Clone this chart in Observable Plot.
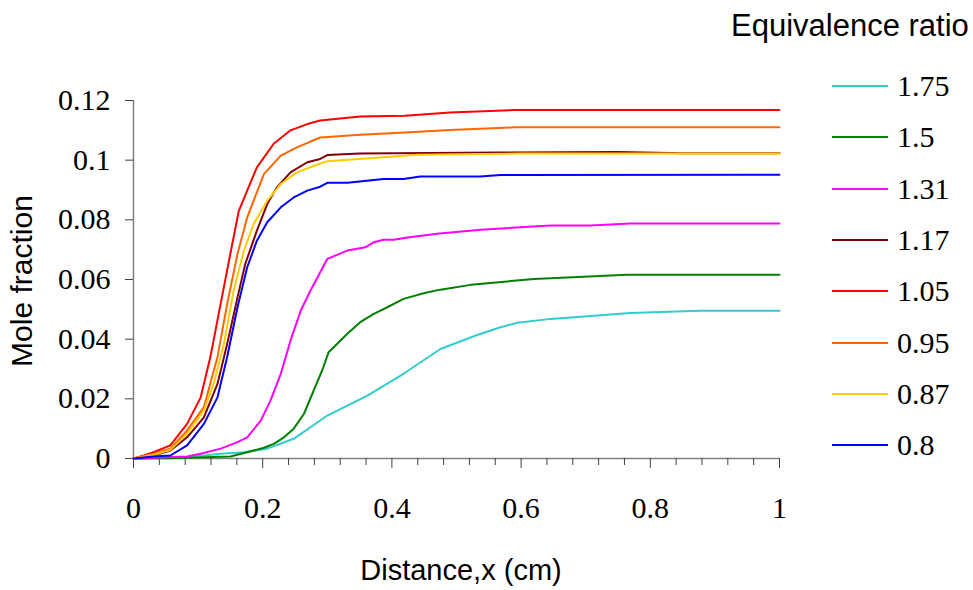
<!DOCTYPE html>
<html>
<head>
<meta charset="utf-8">
<script src="https://cdn.jsdelivr.net/npm/d3@7"></script>
<script src="https://cdn.jsdelivr.net/npm/@observablehq/plot@0.6"></script>
<style>
  html, body { margin: 0; padding: 0; background: #fff; }
  #wrap { position: relative; width: 973px; height: 590px; overflow: hidden; }
  .sans { font-family: "Liberation Sans", Arial, sans-serif; font-size: 30px; color: #000; position: absolute; white-space: nowrap; }
  .serif { font-family: "Liberation Serif", "Times New Roman", serif; font-size: 30px; color: #000; }
  .item { position: absolute; left: 832px; height: 40px; display: flex; align-items: center; transform: translateY(-50%); }
</style>
</head>
<body>
<div id="wrap"></div>
<script>
// ---- data ----
const ratios = ["1.75", "1.5", "1.31", "1.17", "1.05", "0.95", "0.87", "0.8"];
const colors = ["#33CCCC", "#008000", "#FF00FF", "#800000", "#FF0000", "#FF6600", "#FFCC00", "#0000FF"];

const x_175 = [0, 0.083, 0.135, 0.171, 0.207, 0.248, 0.300, 0.362, 0.418, 0.475, 0.532, 0.568, 0.594, 0.646, 0.769, 0.878, 1];
const y_175 = [0, 0.0004, 0.0016, 0.0021, 0.0033, 0.0066, 0.0144, 0.0211, 0.0284, 0.0367, 0.0414, 0.044, 0.0455, 0.0468, 0.0488, 0.0495, 0.0495];

const x_150 = [0, 0.057, 0.150, 0.176, 0.202, 0.217, 0.233, 0.248, 0.264, 0.279, 0.292, 0.302, 0.315, 0.331, 0.351, 0.372, 0.393, 0.418, 0.449, 0.475, 0.522, 0.620, 0.764, 1];
const y_150 = [0, 0.0001, 0.0007, 0.0021, 0.0036, 0.0049, 0.0071, 0.010, 0.015, 0.0228, 0.0295, 0.0356, 0.0384, 0.0418, 0.0457, 0.0485, 0.0507, 0.0535, 0.0554, 0.0566, 0.0582, 0.0602, 0.0616, 0.0616];

const x_131 = [0, 0.083, 0.104, 0.135, 0.161, 0.176, 0.197, 0.212, 0.228, 0.243, 0.259, 0.274, 0.289, 0.300, 0.331, 0.359, 0.372, 0.387, 0.403, 0.424, 0.470, 0.537, 0.646, 0.707, 0.769, 1];
const y_131 = [0, 0.0007, 0.0016, 0.0033, 0.0055, 0.0071, 0.0127, 0.0194, 0.0284, 0.0395, 0.0496, 0.0563, 0.0624, 0.0669, 0.0697, 0.0708, 0.0725, 0.0733, 0.0733, 0.0741, 0.0753, 0.0767, 0.0781, 0.0781, 0.0788, 0.0788];

const x_117 = [0, 0.031, 0.057, 0.083, 0.109, 0.130, 0.145, 0.161, 0.173, 0.191, 0.207, 0.222, 0.243, 0.269, 0.289, 0.300, 0.35, 0.568, 0.75, 0.85, 1];
const y_117 = [0, 0.001, 0.0027, 0.0071, 0.0138, 0.025, 0.0384, 0.054, 0.0652, 0.0764, 0.0853, 0.0909, 0.0959, 0.0993, 0.1004, 0.1017, 0.1022, 0.1026, 0.1027, 0.1023, 0.1023];

const x_105 = [0, 0.016, 0.031, 0.057, 0.083, 0.104, 0.119, 0.135, 0.150, 0.163, 0.176, 0.191, 0.217, 0.243, 0.269, 0.289, 0.351, 0.42, 0.49, 0.59, 1];
const y_105 = [0, 0.001, 0.0021, 0.0044, 0.0116, 0.0205, 0.034, 0.052, 0.0687, 0.083, 0.0898, 0.0976, 0.1055, 0.110, 0.1121, 0.1133, 0.1146, 0.1149, 0.116, 0.1168, 0.1168];

const x_095 = [0, 0.031, 0.057, 0.083, 0.109, 0.130, 0.145, 0.161, 0.176, 0.202, 0.228, 0.253, 0.289, 0.351, 0.42, 0.49, 0.59, 1];
const y_095 = [0, 0.0016, 0.0033, 0.0094, 0.0172, 0.034, 0.0518, 0.0686, 0.0808, 0.0954, 0.1015, 0.1043, 0.1076, 0.1085, 0.1093, 0.1101, 0.111, 0.111];

const x_087 = [0, 0.031, 0.057, 0.083, 0.109, 0.124, 0.140, 0.155, 0.171, 0.186, 0.207, 0.228, 0.253, 0.289, 0.300, 0.387, 0.439, 0.6, 1];
const y_087 = [0, 0.0012, 0.0029, 0.0083, 0.0161, 0.025, 0.0384, 0.0563, 0.0697, 0.0786, 0.0864, 0.092, 0.0959, 0.0989, 0.0996, 0.101, 0.1018, 0.1022, 0.1022];

const x_080 = [0, 0.031, 0.057, 0.083, 0.109, 0.130, 0.145, 0.161, 0.176, 0.191, 0.207, 0.228, 0.248, 0.269, 0.289, 0.300, 0.331, 0.387, 0.418, 0.444, 0.537, 0.568, 1];
const y_080 = [0, 0.0007, 0.001, 0.0044, 0.0116, 0.0205, 0.034, 0.0507, 0.0641, 0.073, 0.0792, 0.0842, 0.0875, 0.0898, 0.0911, 0.0924, 0.0924, 0.0937, 0.0937, 0.0945, 0.0945, 0.095, 0.0951];

const xTickLabels = [0, 0.2, 0.4, 0.6, 0.8, 1];
const xMinorTicks = [0.04, 0.08, 0.12, 0.16, 0.24, 0.28, 0.32, 0.36, 0.44, 0.48, 0.52, 0.56, 0.64, 0.68, 0.72, 0.76, 0.84, 0.88, 0.92, 0.96];
const yTickLabels = [0, 0.02, 0.04, 0.06, 0.08, 0.1, 0.12];

const xTitle = "Distance,x (cm)";
const yTitle = "Mole fraction";
const legendTitle = "Equivalence ratio";

// ---- build table ----
const seriesX = [x_175, x_150, x_131, x_117, x_105, x_095, x_087, x_080];
const seriesY = [y_175, y_150, y_131, y_117, y_105, y_095, y_087, y_080];
const rows = [];
ratios.forEach((r, i) => {
  seriesX[i].forEach((xv, j) => rows.push({ratio: r, x: xv, y: seriesY[i][j]}));
});

const chart = Plot.plot({
  width: 973,
  height: 590,
  marginLeft: 133,
  marginRight: 194,
  marginTop: 100,
  marginBottom: 132,
  style: {fontFamily: "'Liberation Serif','Times New Roman',serif", fontSize: "30px", background: "transparent", color: "#000"},
  x: {domain: [0, 1], label: null},
  y: {domain: [0, 0.12], label: null},
  color: {domain: ratios, range: colors},
  marks: [
    Plot.ruleX([0], {stroke: "#808080", strokeWidth: 1.5}),
    Plot.ruleY([0], {stroke: "#808080", strokeWidth: 1.5}),
    Plot.axisX({ticks: xMinorTicks, tickSize: 7, tickFormat: () => "", stroke: "#404040", label: null}),
    Plot.axisX({ticks: xTickLabels, tickSize: 10, tickPadding: 28, stroke: "#404040", fill: "#000", fontSize: 30, label: null, tickFormat: d => String(d)}),
    Plot.axisY({ticks: yTickLabels, tickSize: 8, tickPadding: 15, stroke: "#404040", fill: "#000", fontSize: 30, label: null, tickFormat: d => String(d)}),
    Plot.line(rows, {x: "x", y: "y", z: "ratio", stroke: "ratio", strokeWidth: 2})
  ]
});

const wrap = document.getElementById("wrap");
wrap.appendChild(chart);

// axis titles
const yt = document.createElement("div");
yt.className = "sans";
yt.textContent = yTitle;
yt.style.left = "22px"; yt.style.top = "281px";
yt.style.transform = "translate(-50%,-50%) rotate(-90deg)";
wrap.appendChild(yt);

const xt = document.createElement("div");
xt.className = "sans";
xt.textContent = xTitle;
xt.style.fontSize = "29px";
xt.style.left = "461px"; xt.style.top = "570px";
xt.style.transform = "translate(-50%,-50%)";
wrap.appendChild(xt);

// legend
const lt = document.createElement("div");
lt.className = "sans";
lt.textContent = legendTitle;
lt.style.fontSize = "31px";
lt.style.left = "731px"; lt.style.top = "26px";
lt.style.transform = "translateY(-50%)";
wrap.appendChild(lt);

ratios.forEach((r, i) => {
  const it = document.createElement("div");
  it.className = "item";
  it.style.top = (86 + i * 51.3) + "px";
  it.innerHTML = `<svg width="56" height="4" style="display:block"><line x1="0" x2="56" y1="2" y2="2" stroke="${colors[i]}" stroke-width="2"/></svg>` +
    `<span class="serif" style="margin-left:9px">${r}</span>`;
  wrap.appendChild(it);
});
</script>
</body>
</html>
